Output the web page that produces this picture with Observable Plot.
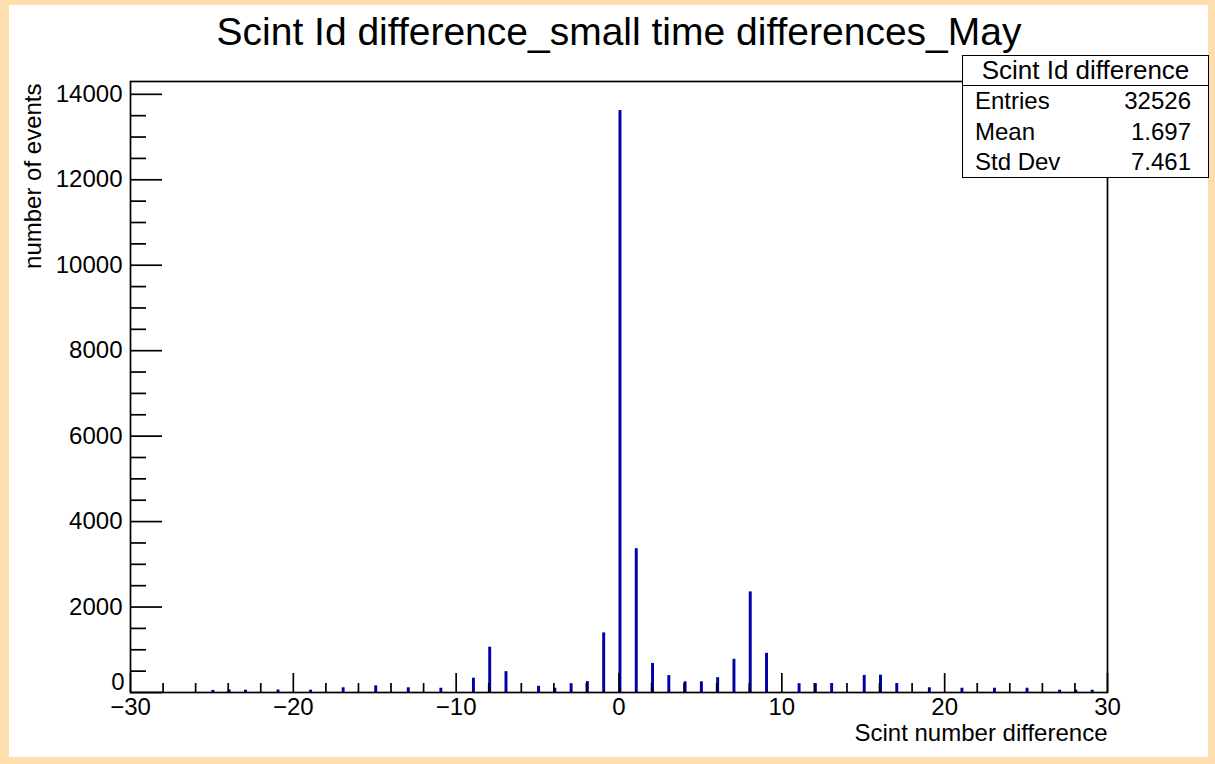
<!DOCTYPE html>
<html><head><meta charset="utf-8">
<script src="https://cdn.jsdelivr.net/npm/d3@7"></script>
<script src="https://cdn.jsdelivr.net/npm/@observablehq/plot@0.6"></script>
<style>
html,body{margin:0;padding:0;}
body{width:1215px;height:764px;background:#FEDDAE;position:relative;overflow:hidden;font-family:"Liberation Sans",Arial,Helvetica,sans-serif;color:#000;}
#panel{position:absolute;left:9px;top:5px;width:1199px;height:752px;background:#fff;}
#title{position:absolute;left:0;top:12px;width:1238px;text-align:center;font-size:39px;line-height:39px;white-space:nowrap;}
#chart{position:absolute;left:0;top:60px;}
#stats{position:absolute;left:962px;top:55px;width:247px;height:123px;box-sizing:border-box;border:1.6px solid #000;background:#fff;font-size:24px;}
#stats .hd{height:29px;line-height:29px;text-align:center;border-bottom:1.6px solid #000;font-size:26px;}
#stats .row{height:30.5px;line-height:30.5px;display:flex;justify-content:space-between;padding:0 17px 0 12px;}
</style></head>
<body>
<div id="panel"></div>
<div id="title"></div>
<div id="chart"></div>
<div id="stats"></div>
<script>
// Chart texts
const titleText = "Scint Id difference_small time differences_May";
const xTitle = "Scint number difference";
const yTitle = "number of events";
const statsHeader = "Scint Id difference";
const statsLabels = ["Entries", "Mean", "Std Dev"];
const statsValues = ["32526", "1.697", "7.461"];

// Histogram content: scintillator id difference and number of events
const scintDiff = [-25, -24, -23, -21, -19, -17, -15, -13, -11, -9, -8, -7, -5, -4, -3, -2, -1, 0, 1, 2, 3, 4, 5, 6, 7, 8, 9, 11, 12, 13, 15, 16, 17, 19, 21, 23, 25, 27, 28, 29];
const events = [50, 60, 55, 60, 55, 110, 155, 110, 100, 335, 1060, 488, 145, 100, 207, 255, 1395, 13620, 3365, 680, 395, 250, 250, 347, 777, 2355, 917, 207, 207, 210, 400, 405, 210, 110, 100, 100, 100, 55, 55, 55];

// Axes
const xDomain = [-30, 30];
const yDomain = [0, 14300];
const xMajor = [-30, -20, -10, 0, 10, 20, 30];
const xMinor = d3.range(-28, 30, 2).filter(v => v % 10 !== 0);
const yMajor = [0, 2000, 4000, 6000, 8000, 10000, 12000, 14000];
const yMinor = d3.range(500, 14300, 500).filter(v => v % 2000 !== 0);

document.getElementById("title").textContent = titleText;
const st = document.getElementById("stats");
st.innerHTML = `<div class="hd">${statsHeader}</div>` +
  statsLabels.map((l, i) => `<div class="row"><span>${l}</span><span>${statsValues[i]}</span></div>`).join("");

const W = 1215, H = 704, mL = 130, mR = 108, mT = 21, mB = 72;
const plotW = W - mL - mR, plotH = H - mT - mB;
const yPerPx = (yDomain[1] - yDomain[0]) / plotH;
const xPerPx = (xDomain[1] - xDomain[0]) / plotW;
const binW = 0.18;

const bars = scintDiff.map((v, i) => ({v, n: events[i]}));
const blue = "#0000a8";

const chart = Plot.plot({
  width: W, height: H,
  marginLeft: mL, marginRight: mR, marginTop: mT, marginBottom: mB,
  style: {background: "transparent", fontFamily: "Liberation Sans, Arial, Helvetica, sans-serif", fontSize: "24px", color: "#000", overflow: "visible"},
  x: {domain: xDomain},
  y: {domain: yDomain},
  marks: [
    Plot.rectY(bars, {x1: "v", x2: d => d.v + binW, y1: 0, y2: "n", fill: blue}),
    Plot.ruleX(xMajor, {x: d => d, y1: 0, y2: 19 * yPerPx, stroke: "#000", strokeWidth: 1.7}),
    Plot.ruleX(xMinor, {x: d => d, y1: 0, y2: 9 * yPerPx, stroke: "#000", strokeWidth: 1.7}),
    Plot.ruleY(yMajor, {y: d => d, x1: xDomain[0], x2: xDomain[0] + 32 * xPerPx, stroke: "#000", strokeWidth: 1.7}),
    Plot.ruleY(yMinor, {y: d => d, x1: xDomain[0], x2: xDomain[0] + 16 * xPerPx, stroke: "#000", strokeWidth: 1.7}),
    Plot.frame({stroke: "#000", strokeWidth: 1.7}),
    Plot.axisX({ticks: xMajor, tickSize: 0, tickPadding: 5, label: null}),
    Plot.axisY({ticks: yMajor.filter(v => v > 0), tickSize: 0, tickPadding: 8, tickFormat: d => String(d), label: null}),
    Plot.axisY({ticks: [0], tickSize: 0, tickPadding: 6, dy: -10, tickFormat: d => String(d), label: null}),
    Plot.text([yTitle], {text: d => d, frameAnchor: "top-left", rotate: -90, textAnchor: "end", dx: -107, dy: 2, fontSize: 24}),
    Plot.text([xTitle], {text: d => d, frameAnchor: "bottom-right", textAnchor: "end", dy: 48, fontSize: 24})
  ]
});
document.getElementById("chart").appendChild(chart);
</script>
</body></html>
